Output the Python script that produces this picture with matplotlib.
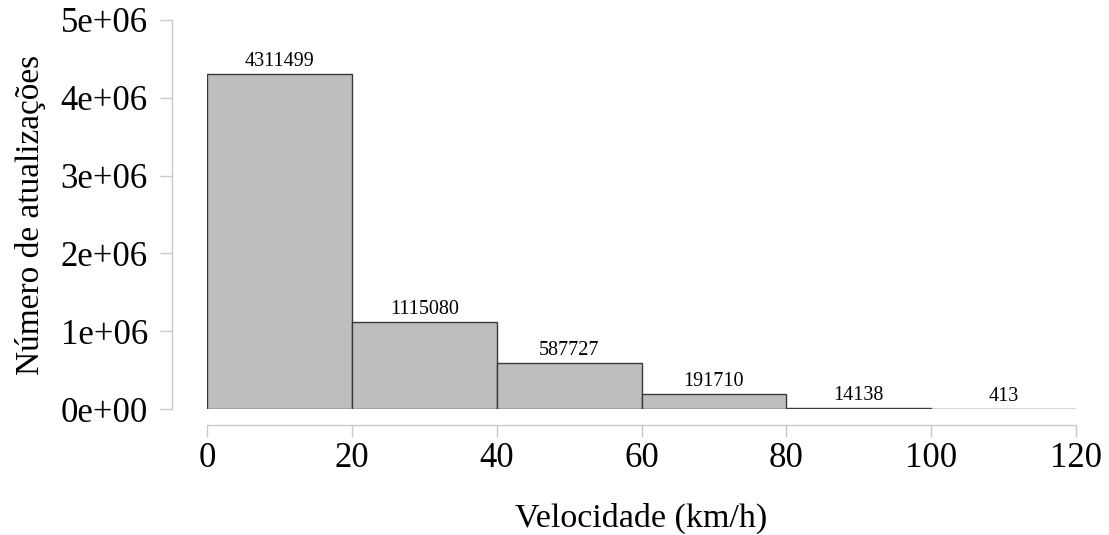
import numpy as np
import matplotlib.pyplot as plt

# Histogram of update speeds
bin_edges = [0, 20, 40, 60, 80, 100, 120]
counts = [4311499, 1115080, 587727, 191710, 14138, 413]
y_ticks = [0, 1e6, 2e6, 3e6, 4e6, 5e6]
y_tick_labels = ['0e+00', '1e+06', '2e+06', '3e+06', '4e+06', '5e+06']
x_ticks = [0, 20, 40, 60, 80, 100, 120]

plt.rcParams['font.family'] = ['Liberation Serif', 'DejaVu Serif']

fig = plt.figure(figsize=(11.09, 5.35), dpi=100)
ax = fig.add_axes([207/1109, 126/535, (1076-207)/1109, (515-126)/535])

lefts = np.array(bin_edges[:-1])
widths = np.diff(bin_edges)
bars = ax.bar(lefts, counts, width=widths, align='edge',
              color='#bebebe', edgecolor='#3a3a3a', linewidth=1.0)
for x, w, c in zip(lefts, widths, counts):
    ax.annotate(str(c), (x + w/2, c), xytext=(0, 2), textcoords='offset points',
                ha='center', va='bottom', fontsize=14.5)

ax.set_xlim(0, 120)
ax.set_ylim(0, 5e6)

for s in ['top', 'right']:
    ax.spines[s].set_visible(False)
ax.spines['left'].set_position(('outward', 25))
ax.spines['bottom'].set_position(('outward', 11.5))
ax.spines['left'].set_bounds(0, 5e6)
ax.spines['bottom'].set_bounds(0, 120)
for s in ['left', 'bottom']:
    ax.spines[s].set_color('#c8c8c8')
    ax.spines[s].set_linewidth(1.0)

ax.set_yticks(y_ticks)
ax.set_yticklabels(y_tick_labels)
ax.set_xticks(x_ticks)
ax.tick_params(axis='both', colors='#c8c8c8', labelcolor='black',
               labelsize=25, length=8.5, width=1.0)
ax.tick_params(axis='y', pad=9)
ax.tick_params(axis='x', pad=4)

ax.set_ylabel('Número de atualizações', fontsize=24)
ax.yaxis.set_label_coords(-(207 - 30) / 869, 0.5)
ax.set_xlabel('Velocidade (km/h)', fontsize=24.5)
ax.xaxis.set_label_coords(0.5, -(518 - 409) / 389)
ax.xaxis.label.set_va('center')
ax.yaxis.label.set_va('center')

fig.savefig('out.png', dpi=100)
